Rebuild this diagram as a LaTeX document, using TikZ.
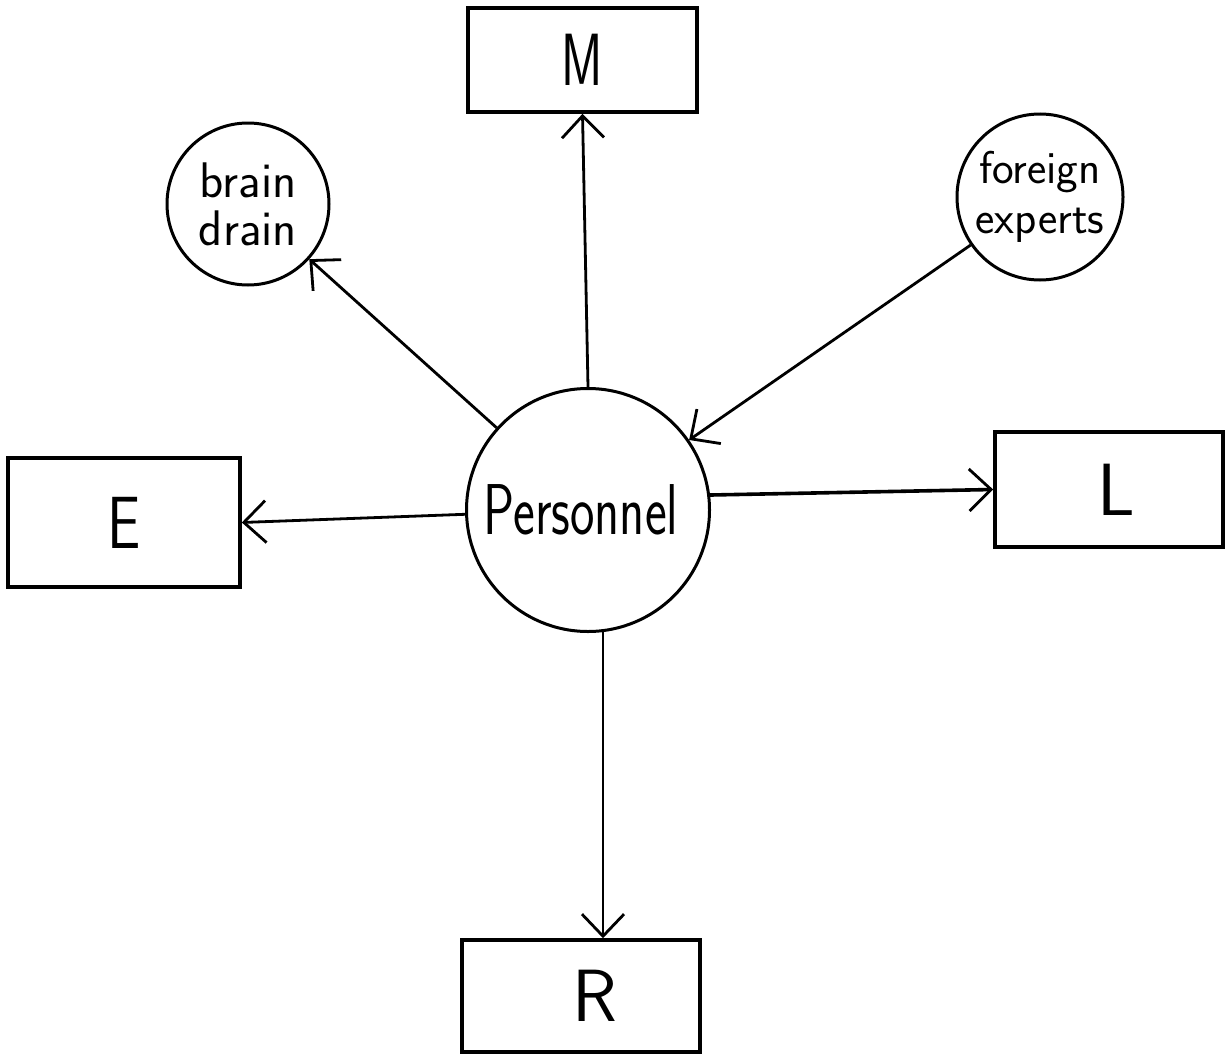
\documentclass[tikz,border=0pt]{standalone}
\usepackage{fontspec}
\usetikzlibrary{arrows.meta}
\begin{document}
\begin{tikzpicture}[x=1pt,y=-1pt,
  box/.style={draw, line width=3.6pt, inner sep=0pt, font=\sffamily\fontsize{74}{74}\selectfont},
  bub/.style={draw, circle, line width=3pt, inner sep=0pt, align=center},
  conn/.style={line width=2.8pt, -{Straight Barb[length=22pt,width=42pt,line width=2.8pt]}},
  small/.style={font=\sffamily\fontsize{50}{48}\selectfont},
]
\fill[white] (0,0) rectangle (1226,1057);
\useasboundingbox (0,0) rectangle (1226,1057);
% boxes
\node[box, minimum width=229pt, minimum height=104pt] (M) at (582.5,60) {\scalebox{0.68}[1]{M}\hspace{20pt}};
\node[box, minimum width=232pt, minimum height=129pt] (E) at (124,522.5) {\scalebox{0.8}[1]{E}\hspace{10pt}};
\node[box, minimum width=228pt, minimum height=115pt] (L) at (1109,489.5) {\hspace{14pt}L};
\node[box, minimum width=238pt, minimum height=112pt] (R) at (581,996) {\hspace{28pt}R};
% circles
\node[bub, minimum size=162pt, small] (bd) at (248,204) {brain\\drain\hspace{4pt}};
\node[bub, minimum size=166pt, font=\sffamily\fontsize{46}{50}\selectfont] (fe) at (1040,197) {foreign\\experts};
\node[bub, minimum size=243pt] (P) at (588,510) {\scalebox{0.72}[1]{\sffamily\fontsize{72}{72}\selectfont Personnel}\hspace{14pt}};
% connectors
\draw[conn] (P.north) -- (M.south);
\draw[conn] (P) -- (bd);
\draw[conn] (fe) -- (P);
\draw[conn] (P.182) -- (E.east);
\draw[conn, line width=3.6pt] (P.7) -- (L.west);
\draw[conn] (P.-83) -- (P.-83 |- R.north);
\end{tikzpicture}
\end{document}
